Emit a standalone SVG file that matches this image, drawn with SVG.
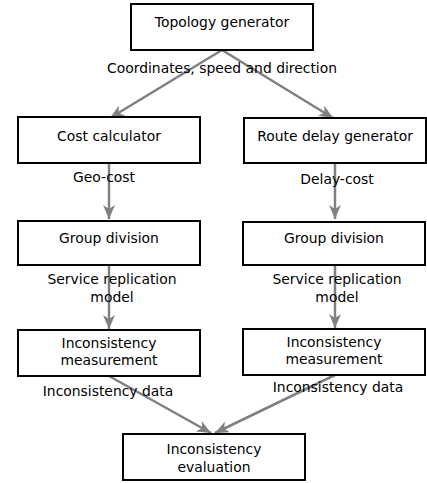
<svg xmlns="http://www.w3.org/2000/svg" width="427" height="483" viewBox="0 0 427 483">
<style>
.box{fill:#fff;stroke:#000;stroke-width:2}
.t{font-family:"DejaVu Sans",sans-serif;font-size:13.9px;fill:#000;text-anchor:middle}
.e{stroke:#808080;stroke-width:2.5;fill:none}
</style>
<defs>
<marker id="ah" viewBox="0 0 14 12" refX="14" refY="6" markerWidth="14" markerHeight="12" markerUnits="userSpaceOnUse" orient="auto">
<path d="M0,0 L14,6 L0,12 L4,6 Z" fill="#808080"/>
</marker>
</defs>
<rect width="427" height="483" fill="#fff"/>
<g id="connectors">
<path class="e" d="M222,50 L110,118" marker-end="url(#ah)"/>
<path class="e" d="M222,50 L333,118" marker-end="url(#ah)"/>
<path class="e" d="M109,163 L109,219" marker-end="url(#ah)"/>
<path class="e" d="M335,163 L335,219" marker-end="url(#ah)"/>
<path class="e" d="M109,265 L109,329" marker-end="url(#ah)"/>
<path class="e" d="M335,265 L335,328" marker-end="url(#ah)"/>
<path class="e" d="M109,376 L211,433" marker-end="url(#ah)"/>
<path class="e" d="M335,375 L215,433" marker-end="url(#ah)"/>
<text class="t" x="222" y="73">Coordinates, speed and direction</text>
<text class="t" x="104" y="182">Geo-cost</text>
<text class="t" x="337" y="184">Delay-cost</text>
<text class="t" x="112" y="284">Service replication</text>
<text class="t" x="112" y="302">model</text>
<text class="t" x="337" y="284">Service replication</text>
<text class="t" x="337" y="302">model</text>
<text class="t" x="108" y="396">Inconsistency data</text>
<text class="t" x="338" y="392">Inconsistency data</text>
</g>
<g id="topology"><rect class="box" x="131" y="4" width="182" height="46"/><text class="t" x="222" y="27">Topology generator</text></g>
<g id="cost"><rect class="box" x="18" y="117" width="182" height="46"/><text class="t" x="109" y="141">Cost calculator</text></g>
<g id="route"><rect class="box" x="244" y="118" width="182" height="45"/><text class="t" x="335" y="141">Route delay generator</text></g>
<g id="group1"><rect class="box" x="18" y="221" width="182" height="44"/><text class="t" x="109" y="243">Group division</text></g>
<g id="group2"><rect class="box" x="243" y="222" width="182" height="43"/><text class="t" x="334" y="243">Group division</text></g>
<g id="meas1"><rect class="box" x="18" y="330" width="182" height="46"/><text class="t" x="109" y="348">Inconsistency</text><text class="t" x="109" y="365">measurement</text></g>
<g id="meas2"><rect class="box" x="243" y="329" width="182" height="46"/><text class="t" x="334" y="347">Inconsistency</text><text class="t" x="334" y="364">measurement</text></g>
<g id="eval"><rect class="box" x="123" y="434" width="182" height="46"/><text class="t" x="214" y="454">Inconsistency</text><text class="t" x="214" y="472">evaluation</text></g>
</svg>
